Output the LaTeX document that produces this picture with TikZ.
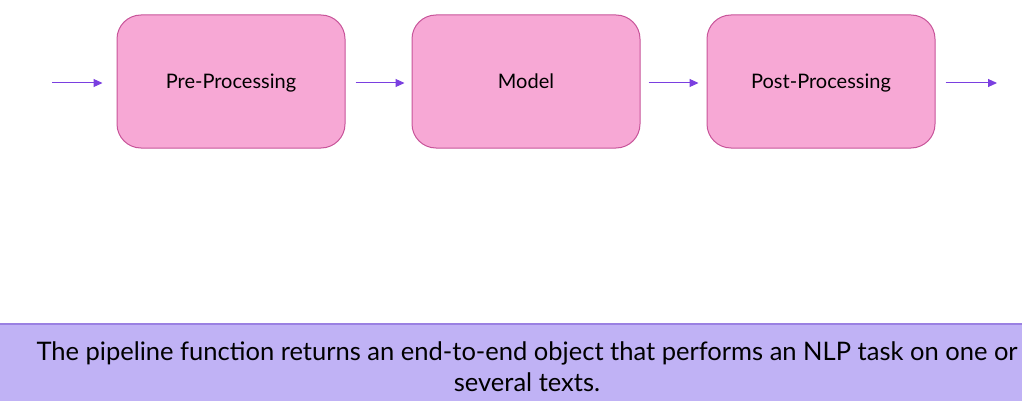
\documentclass[tikz,border=0pt]{standalone}
\usepackage{fontspec}
\setmainfont{Lato}
\usetikzlibrary{arrows.meta}
\definecolor{boxfill}{HTML}{F7A8D5}
\definecolor{boxdraw}{HTML}{C8559A}
\definecolor{arr}{HTML}{7A3FE0}
\definecolor{band}{HTML}{C0B2F5}
\definecolor{bandline}{HTML}{9A80E2}
\begin{document}
\begin{tikzpicture}[x=1pt,y=-1pt,
  stage/.style={draw=boxdraw,line width=1pt,fill=boxfill,rounded corners=24pt,
    minimum width=228pt,minimum height=133pt,inner sep=0pt,
    text height=18.5pt,text depth=4pt,
    font=\fontsize{20}{24}\selectfont},
  flow/.style={draw=arr,line width=1pt,-{Triangle[length=9pt,width=8pt]}}]
\useasboundingbox (0,0) rectangle (1022,401);
\fill[white] (0,0) rectangle (1022,401);
\node[stage] (pre) at (231,81.5) {Pre-Processing};
\node[stage] (model) at (526,81.5) {Model};
\node[stage] (post) at (821,81.5) {Post-Processing};
\coordinate (in) at (52,83);
\coordinate (out) at (997,83);
\draw[flow] (in) -- ([xshift=-14pt]pre.west |- in);
\draw[flow] ([xshift=10pt]pre.east |- in) -- ([xshift=-7pt]model.west |- in);
\draw[flow] ([xshift=8pt]model.east |- in) -- ([xshift=-8pt]post.west |- in);
\draw[flow] ([xshift=10pt]post.east |- in) -- (out);
\fill[band] (0,323) rectangle (1022,401);
\draw[bandline,line width=2pt] (0,324) -- (1022,324);
\node[inner sep=0pt] (caption) at (527,370) {\resizebox{981pt}{!}{\fontsize{27}{32}\selectfont
\begin{tabular}{@{}c@{}}The pipeline function returns an end-to-end object that performs an NLP task on one or\\ several texts.\end{tabular}}};
\end{tikzpicture}
\end{document}
